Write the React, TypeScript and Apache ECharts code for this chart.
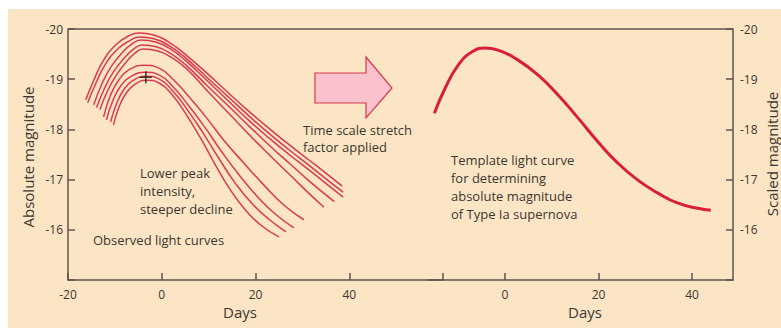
import React, { useEffect, useRef } from "react";
import * as echarts from "echarts";

// Axis ticks / labels
const leftDayTicks = [-20, 0, 20, 40];
const rightDayTicks = [0, 20, 40];
const magTicks = [-20, -19, -18, -17, -16];

// Observed light curves (day, absolute magnitude) — brighter family
const curveU1 = [[-16.2,-18.59],[-14.5,-18.98],[-12.4,-19.38],[-9.6,-19.70],[-7.1,-19.86],[-4.9,-19.92],[-1.7,-19.88],[1.5,-19.74],[4.7,-19.52],[9.4,-19.14],[14.3,-18.72],[18.6,-18.36],[22.9,-18.02],[27.1,-17.70],[31.4,-17.39],[35.0,-17.13],[38.5,-16.87]];
const curveU2 = [[-15.8,-18.53],[-14.0,-18.93],[-12.0,-19.30],[-9.4,-19.60],[-7.0,-19.76],[-4.7,-19.84],[-1.5,-19.80],[1.7,-19.66],[4.9,-19.44],[9.5,-19.05],[14.4,-18.63],[18.7,-18.26],[23.0,-17.91],[27.2,-17.59],[31.5,-17.28],[35.1,-17.01],[38.7,-16.75]];
const curveU3 = [[-14.5,-18.49],[-12.8,-18.90],[-10.8,-19.25],[-8.5,-19.52],[-6.4,-19.70],[-4.4,-19.78],[-1.3,-19.74],[1.9,-19.60],[5.1,-19.37],[9.7,-18.97],[14.5,-18.54],[18.8,-18.16],[23.1,-17.81],[27.3,-17.49],[31.6,-17.18],[35.2,-16.91],[38.7,-16.65]];
const curveU4 = [[-13.9,-18.43],[-12.2,-18.82],[-10.2,-19.16],[-8.0,-19.42],[-6.0,-19.60],[-4.2,-19.68],[-1.0,-19.64],[2.1,-19.50],[5.3,-19.27],[9.8,-18.86],[14.6,-18.43],[18.9,-18.04],[23.2,-17.66],[27.4,-17.31],[31.6,-16.96],[36.8,-16.56]];
const curveU5 = [[-13.2,-18.39],[-11.6,-18.76],[-9.7,-19.08],[-7.6,-19.34],[-5.7,-19.52],[-4.0,-19.60],[-0.8,-19.56],[2.3,-19.42],[5.5,-19.19],[9.9,-18.75],[14.7,-18.28],[19.0,-17.86],[23.3,-17.46],[27.5,-17.08],[31.0,-16.76],[34.6,-16.45]];
// Fainter family: lower peak, steeper decline
const curveL1 = [[-12.4,-18.25],[-10.9,-18.69],[-9.2,-18.98],[-7.1,-19.18],[-3.8,-19.28],[-0.6,-19.22],[2.6,-18.98],[5.8,-18.65],[9.4,-18.25],[13.2,-17.79],[17.5,-17.33],[21.8,-16.89],[26.1,-16.49],[30.3,-16.20]];
const curveL2 = [[-11.8,-18.19],[-10.4,-18.58],[-8.8,-18.86],[-6.8,-19.04],[-3.6,-19.14],[-0.5,-19.08],[2.5,-18.84],[5.6,-18.49],[9.0,-18.07],[12.6,-17.58],[16.6,-17.08],[20.6,-16.64],[24.4,-16.30],[28.2,-16.04]];
const curveL3 = [[-10.9,-18.15],[-9.6,-18.52],[-8.1,-18.79],[-6.2,-18.97],[-3.4,-19.06],[-0.5,-19.00],[2.4,-18.76],[5.4,-18.40],[8.6,-17.96],[12.0,-17.45],[15.6,-16.94],[19.3,-16.52],[23.0,-16.20],[26.5,-15.96]];
const curveL4 = [[-10.3,-18.09],[-9.1,-18.45],[-7.6,-18.72],[-5.7,-18.90],[-3.3,-18.98],[-0.5,-18.92],[2.3,-18.68],[5.2,-18.30],[8.2,-17.84],[11.4,-17.30],[14.6,-16.80],[17.8,-16.40],[21.3,-16.08],[25.0,-15.86]];

const observedCurves = [curveU1, curveU2, curveU3, curveU4, curveU5, curveL1, curveL2, curveL3, curveL4];

// Template light curve (day, scaled magnitude)
const templateCurve = [[-15.1,-18.32],[-12.8,-18.82],[-10.0,-19.28],[-7.1,-19.54],[-4.3,-19.62],[-1.5,-19.58],[2.8,-19.38],[7.1,-19.08],[11.3,-18.69],[15.6,-18.23],[19.9,-17.75],[24.1,-17.33],[28.4,-16.99],[32.7,-16.73],[37.0,-16.53],[41.2,-16.43],[44.0,-16.39]];

const peakMarker = [[-3.4, -19.04]];

const FONT = '"Open Sans", "Noto Sans", sans-serif';
const TEXT = "#3b3732";
const AXIS = "#5e544c";
const CURVE = "#da3a50";

export default function App() {
  const ref = useRef<HTMLDivElement>(null);
  useEffect(() => {
    document.body.style.margin = "0";
    const chart = echarts.init(ref.current!, null, { renderer: "svg" });
    const axisLine = { show: true, onZero: false, lineStyle: { color: AXIS, width: 1.5 } };
    const axisTick = { show: true, inside: true, length: 7, lineStyle: { color: AXIS, width: 1.5 } };
    const label = { color: TEXT, fontSize: 12, fontFamily: FONT };
    const txt = (text: string, x: number, y: number, size = 13, extra: any = {}) => ({
      type: "text",
      x,
      y,
      ...extra,
      style: { text, fill: TEXT, fontSize: size, fontFamily: FONT, align: extra.align || "left", verticalAlign: "middle" },
    });
    chart.setOption({
      animation: false,
      backgroundColor: "#ffffff",
      grid: [
        { left: 68, top: 29, width: 375, height: 251, containLabel: false, outerBoundsMode: "none" },
        { left: 428, top: 29, width: 305, height: 251, containLabel: false, outerBoundsMode: "none" },
      ],
      xAxis: [
        {
          gridIndex: 0, type: "value", min: -20, max: 60, interval: 20,
          axisLine, axisTick, splitLine: { show: false },
          axisLabel: { ...label, margin: 8, formatter: (v: number) => (leftDayTicks.includes(v) ? String(v) : "") },
        },
        {
          gridIndex: 1, type: "value", min: -16.46, max: 48.75,
          axisLine, splitLine: { show: false },
          axisTick: { ...axisTick, customValues: rightDayTicks },
          axisLabel: { ...label, margin: 8, customValues: rightDayTicks },
        },
      ],
      yAxis: [
        {
          gridIndex: 0, type: "value", min: -20, max: -15, interval: 1, inverse: true, position: "left",
          axisLine, axisTick, splitLine: { show: false },
          axisLabel: { ...label, margin: 5, formatter: (v: number) => (magTicks.includes(v) ? String(v) : "") },
        },
        {
          gridIndex: 1, type: "value", min: -20, max: -15, interval: 1, inverse: true, position: "right",
          axisLine, axisTick, splitLine: { show: false },
          axisLabel: { ...label, margin: 7, formatter: (v: number) => (magTicks.includes(v) ? String(v) : "") },
        },
      ],
      series: [
        ...observedCurves.map((d, i) => ({
          type: "line", name: "observed " + (i + 1), xAxisIndex: 0, yAxisIndex: 0,
          data: d, smooth: true, showSymbol: false, silent: true,
          lineStyle: { color: CURVE, width: 1.5 },
        })),
        {
          type: "line", name: "template", xAxisIndex: 1, yAxisIndex: 1,
          data: templateCurve, smooth: true, showSymbol: false, silent: true,
          lineStyle: { color: "#d81e3c", width: 3 },
        },
        {
          type: "scatter", name: "peak", xAxisIndex: 0, yAxisIndex: 0, z: 5,
          data: peakMarker, symbol: "path://M5.2,0h1.6v5.2h5.2v1.6h-5.2v5.2h-1.6v-5.2h-5.2v-1.6h5.2z", symbolSize: 12,
          itemStyle: { color: "#1a1a1a" },
        },
      ],
      graphic: [
        { type: "rect", z: -10, shape: { x: 8, y: 9, width: 773, height: 319 }, style: { fill: "#fce5c5" } },
        { type: "line", shape: { x1: 68, y1: 29, x2: 733, y2: 29 }, style: { stroke: AXIS, lineWidth: 1.5 } },
        {
          type: "polygon",
          shape: { points: [[315, 73], [366, 73], [366, 57], [392, 88], [366, 118], [366, 103], [315, 103]] },
          style: { fill: "#f9c2cc", stroke: "#d9364b", lineWidth: 1.2 },
        },
        txt("Lower peak", 140, 173),
        txt("intensity,", 140, 191),
        txt("steeper decline", 140, 209),
        txt("Observed light curves", 93, 240),
        txt("Time scale stretch", 303, 130),
        txt("factor applied", 303, 147),
        txt("Template light curve", 451, 160),
        txt("for determining", 451, 178),
        txt("absolute magnitude", 451, 196),
        txt("of Type Ia supernova", 451, 214),
        txt("Days", 240, 312, 15, { align: "center" }),
        txt("Days", 585, 312, 15, { align: "center" }),
        txt("Absolute magnitude", 28, 157, 15, { align: "center", rotation: Math.PI / 2 }),
        txt("Scaled magnitude", 772, 154, 15, { align: "center", rotation: Math.PI / 2 }),
      ],
    });
    return () => chart.dispose();
  }, []);
  return <div ref={ref} style={{ width: 781, height: 329 }} />;
}
